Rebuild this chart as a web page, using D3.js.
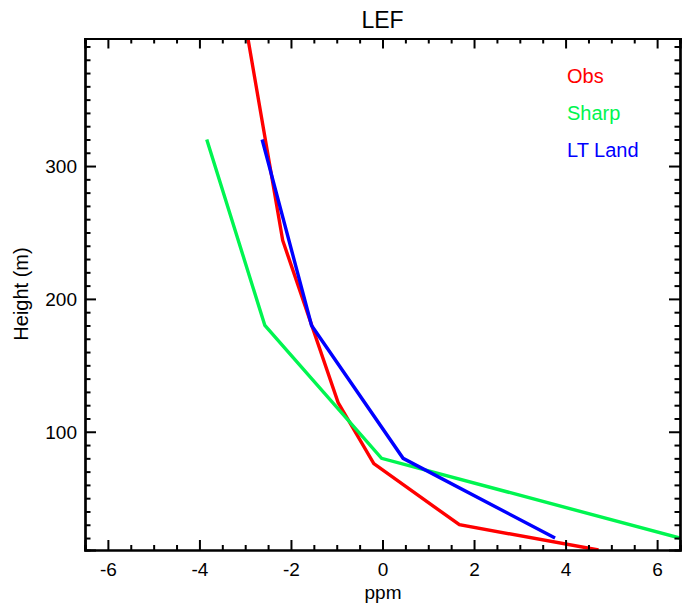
<!DOCTYPE html>
<html><head><meta charset="utf-8">
<script src="https://cdn.jsdelivr.net/npm/d3@7"></script>
<style>body{margin:0;background:#fff}svg{display:block}text{font-family:"Liberation Sans",Arial,sans-serif}</style>
</head><body>
<script>
const title = "LEF";
const xLabel = "ppm";
const yLabel = "Height (m)";
const obsHeights = [396, 244, 122, 76, 30, 11];
const obsValues = [-2.94, -2.18, -0.97, -0.19, 1.68, 4.72];
const modelHeights = [320, 180, 80, 20];
const sharpValues = [-3.84, -2.57, -0.02, 6.5];
const ltLandValues = [-2.63, -1.55, 0.45, 3.77];
const seriesNames = ["Obs", "Sharp", "LT Land"];
const seriesColors = ["#ff0000", "#00f550", "#0000ff"];
const xTicks = [-6, -4, -2, 0, 2, 4, 6];
const yTicks = [100, 200, 300];

const W = 682, H = 608;
const L = 85, R = 680, T = 38.5, B = 550;
const svg = d3.select("body").append("svg").attr("width", W).attr("height", H);
const x = d3.scaleLinear().domain([-6.5, 6.5]).range([L, R]);
const y = d3.scaleLinear().domain([11, 396]).range([B, T]);

svg.append("clipPath").attr("id","c").append("rect")
  .attr("x", L).attr("y", T).attr("width", R-L).attr("height", B-T);

const series = [
  {name: seriesNames[0], h: obsHeights, v: obsValues, c: seriesColors[0]},
  {name: seriesNames[1], h: modelHeights, v: sharpValues, c: seriesColors[1]},
  {name: seriesNames[2], h: modelHeights, v: ltLandValues, c: seriesColors[2]}
];
const line = d3.line().x(d => x(d[0])).y(d => y(d[1]));
const g = svg.append("g").attr("clip-path","url(#c)");
series.forEach(s => {
  g.append("path").datum(s.v.map((v,i)=>[v, s.h[i]]))
    .attr("d", line).attr("fill","none").attr("stroke", s.c).attr("stroke-width", 3.4);
});

const fmt = d => String(d);
const xMinor = d3.range(-6.5, 6.51, 0.5).filter(v => !xTicks.includes(v));
const yMinor = d3.range(20, 396, 10).filter(v => !yTicks.includes(v));
const axB = svg.append("g").attr("transform",`translate(0,${B})`)
  .call(d3.axisBottom(x).tickValues(xTicks).tickSize(-10).tickPadding(13).tickFormat(fmt));
const axBm = svg.append("g").attr("transform",`translate(0,${B})`)
  .call(d3.axisBottom(x).tickValues(xMinor).tickSize(-5).tickFormat(""));
const axT = svg.append("g").attr("transform",`translate(0,${T})`)
  .call(d3.axisTop(x).tickValues(xTicks).tickSize(-10).tickFormat(""));
const axTm = svg.append("g").attr("transform",`translate(0,${T})`)
  .call(d3.axisTop(x).tickValues(xMinor).tickSize(-5).tickFormat(""));
const axL = svg.append("g").attr("transform",`translate(${L},0)`)
  .call(d3.axisLeft(y).tickValues(yTicks).tickSize(-11).tickPadding(8).tickFormat(fmt));
const axLm = svg.append("g").attr("transform",`translate(${L},0)`)
  .call(d3.axisLeft(y).tickValues(yMinor).tickSize(-5.5).tickFormat(""));
const axR = svg.append("g").attr("transform",`translate(${R},0)`)
  .call(d3.axisRight(y).tickValues(yTicks).tickSize(-11).tickFormat(""));
const axRm = svg.append("g").attr("transform",`translate(${R},0)`)
  .call(d3.axisRight(y).tickValues(yMinor).tickSize(-5.5).tickFormat(""));
[axB,axBm,axT,axTm,axL,axLm,axR,axRm].forEach(a => {
  a.select(".domain").attr("stroke","#000").attr("stroke-width",2.2);
  a.selectAll(".tick line").attr("stroke","#000").attr("stroke-width",2);
  a.selectAll(".tick text").attr("fill","#000").style("font-size","19px")
    .style("font-family",'"Liberation Sans",Arial,sans-serif');
});
axB.selectAll(".tick text").attr("dy","0.71em");
axL.selectAll(".tick text").attr("dy","0.35em");

svg.append("text").attr("x",(L+R)/2).attr("y",28).attr("text-anchor","middle")
  .style("font-size","23px").text(title);
svg.append("text").attr("x",383).attr("y",599).attr("text-anchor","middle")
  .style("font-size","19px").text(xLabel);
svg.append("text").attr("transform","translate(28,294) rotate(-90)").attr("text-anchor","middle")
  .style("font-size","20px").text(yLabel);

series.forEach((s,i) => {
  svg.append("text").attr("x",567).attr("y",83.3 + i*37).attr("fill", s.c)
    .style("font-size","20px").text(s.name);
});
</script>
</body></html>
